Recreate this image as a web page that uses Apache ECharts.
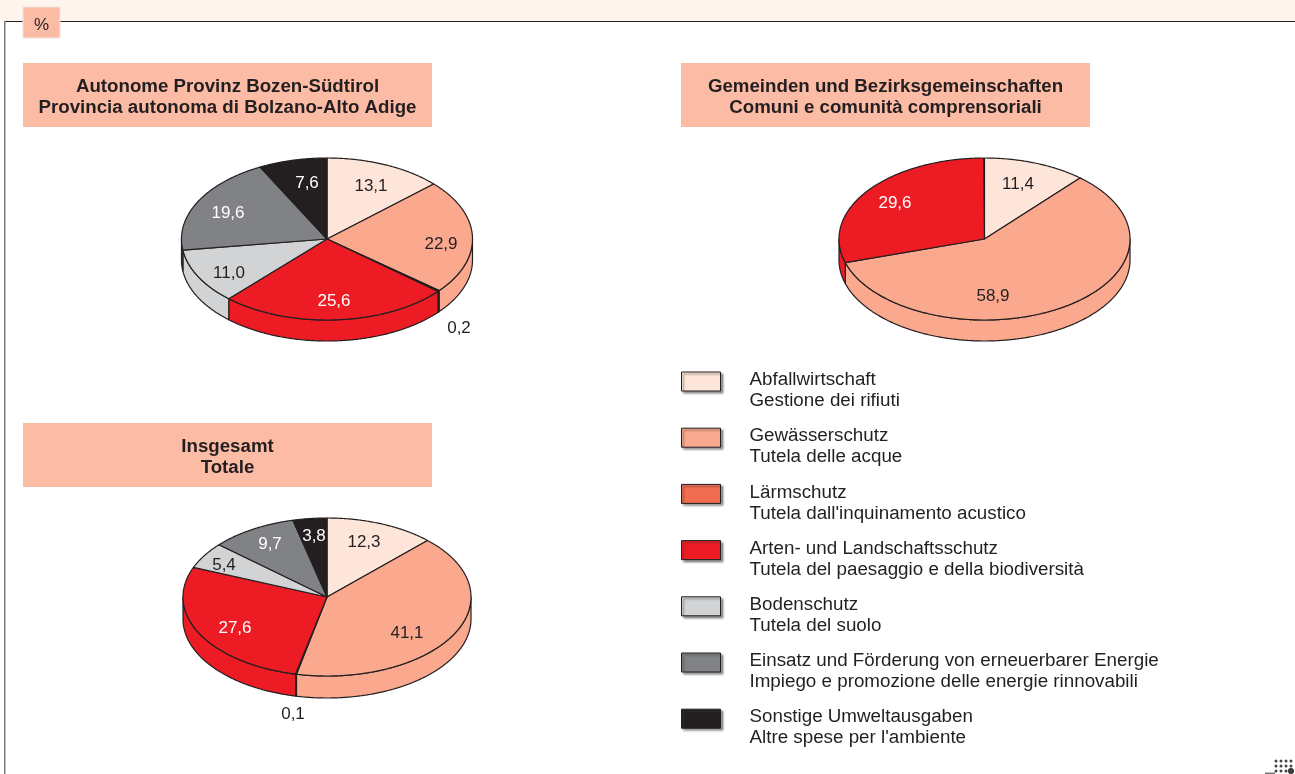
<!DOCTYPE html>
<html>
<head>
<meta charset="utf-8">
<title>Umweltausgaben</title>
<script src="https://cdn.jsdelivr.net/npm/echarts@6/dist/echarts.min.js"></script>
<style>
  html, body { margin: 0; padding: 0; background: #fff; }
  #chart { width: 1295px; height: 774px; }
</style>
</head>
<body>
<div id="chart"></div>
<script>
const categories = [
  'Abfallwirtschaft\nGestione dei rifiuti',
  'Gewässerschutz\nTutela delle acque',
  'Lärmschutz\nTutela dall\'inquinamento acustico',
  'Arten- und Landschaftsschutz\nTutela del paesaggio e della biodiversità',
  'Bodenschutz\nTutela del suolo',
  'Einsatz und Förderung von erneuerbarer Energie\nImpiego e promozione delle energie rinnovabili',
  'Sonstige Umweltausgaben\nAltre spese per l\'ambiente',
];
const valuesProvince = [13.1, 22.9, 0.2, 25.6, 11.0, 19.6, 7.6];
const valuesMunicipal = [11.4, 58.9, 0, 29.6, 0, 0, 0];
const valuesTotal = [12.3, 41.1, 0.1, 27.6, 5.4, 9.7, 3.8];

const colors = ['#fee5da', '#faa98e', '#f26c4f', '#ed1c24', '#d1d3d4', '#808285', '#231f20'];
const labelColors = ['#231f20', '#231f20', '#231f20', '#fff', '#231f20', '#fff', '#fff'];
const ink = '#231f20';
const peach = '#fcbba5';
const sans = '"Liberation Sans", Arial, sans-serif';

// pie geometry; label offsets are measured from the pie centre
const pies = [
  {
    values: valuesProvince, cx: 327, cy: 239, rx: 145.5, ry: 81, depth: 21,
    labels: [[44, -54], [114, 4], [132, 88], [7, 61], [-98, 33], [-99, -27], [-20, -57]],
  },
  {
    values: valuesMunicipal, cx: 984.5, cy: 239, rx: 145.5, ry: 81, depth: 21,
    labels: [[33.5, -56], [8.5, 56], null, [-89.5, -37], null, null, null],
  },
  {
    values: valuesTotal, cx: 327, cy: 597, rx: 144, ry: 79, depth: 22,
    labels: [[37, -56], [80, 35], [-34, 116], [-92, 30], [-103, -33], [-57, -54], [-13, -62]],
  },
];

const arcPoints = (pie, from, to, dy) => {
  const pts = [];
  const steps = Math.max(1, Math.ceil(Math.abs(to - from) / 0.5));
  for (let i = 0; i <= steps; i++) {
    const a = ((from + ((to - from) * i) / steps) * Math.PI) / 180;
    pts.push([pie.cx + pie.rx * Math.sin(a), pie.cy - pie.ry * Math.cos(a) + dy]);
  }
  return pts;
};

const renderSlice = (catIndex) => (params, api) => {
  const pie = pies[api.value(0)];
  const value = api.value(1);
  const start = (api.value(2) / 100) * 360;
  const end = start + (value / 100) * 360;
  const lineStyle = { stroke: ink, lineWidth: 1.2, lineJoin: 'round' };
  const children = [];

  // the visible wall is the front half of the rim, 90 to 270 degrees clockwise from the top
  const wallFrom = Math.max(start, 90);
  const wallTo = Math.min(end, 270);
  if (wallTo > wallFrom) {
    children.push({
      type: 'polygon',
      shape: {
        points: arcPoints(pie, wallFrom, wallTo, 0).concat(arcPoints(pie, wallTo, wallFrom, pie.depth)),
      },
      style: { fill: colors[catIndex], ...lineStyle },
    });
  }
  children.push({
    type: 'polygon',
    shape: { points: [[pie.cx, pie.cy]].concat(arcPoints(pie, start, end, 0)) },
    style: { fill: colors[catIndex], ...lineStyle },
  });
  const at = pie.labels[catIndex];
  children.push({
    type: 'text',
    z2: 20,
    style: {
      x: pie.cx + at[0],
      y: pie.cy + at[1] + 1,
      text: value.toFixed(1).replace('.', ','),
      fill: at[1] > pie.ry + pie.depth ? ink : labelColors[catIndex],
      font: '17px ' + sans,
      align: 'center',
      verticalAlign: 'middle',
    },
  });
  return { type: 'group', children };
};

const seriesList = categories.map((name, catIndex) => {
  const data = [];
  pies.forEach((pie, pieIndex) => {
    if (pie.values[catIndex] > 0) {
      const before = pie.values.slice(0, catIndex).reduce((s, v) => s + v, 0);
      data.push([pieIndex, pie.values[catIndex], before]);
    }
  });
  return {
    type: 'custom',
    name,
    coordinateSystem: 'none',
    silent: true,
    itemStyle: { color: colors[catIndex] },
    renderItem: renderSlice(catIndex),
    data,
  };
});

const titleBox = (x, y, lines) => [
  { type: 'rect', shape: { x, y, width: 409, height: 64 }, style: { fill: peach } },
  {
    type: 'text',
    style: {
      x: x + 204.5,
      y: y + 34,
      text: lines,
      fill: ink,
      font: 'bold 18.7px ' + sans,
      lineHeight: 21,
      align: 'center',
      verticalAlign: 'middle',
    },
  },
];

// scrap of the page's dot screen in the bottom right corner
const dots = [
  { type: 'rect', shape: { x: 1265, y: 772.5, width: 10, height: 1.5 }, style: { fill: '#77787b' } },
  { type: 'circle', shape: { cx: 1291, cy: 771, r: 3 }, style: { fill: '#333' } },
];
[1276, 1281, 1286, 1291].forEach((x) => {
  [761, 766, 771].forEach((y) => {
    dots.push({ type: 'circle', shape: { cx: x, cy: y, r: 1.5 }, style: { fill: '#444' } });
  });
});

const chart = echarts.init(document.getElementById('chart'));
chart.setOption({
  animation: false,
  backgroundColor: '#fff',
  legend: {
    left: 681,
    top: 369.5,
    padding: 0,
    orient: 'vertical',
    selectedMode: false,
    data: categories,
    // the empty tail of the icon path lifts the swatch above the middle of its two text lines
    icon: 'path://M0 0L39 0L39 19L0 19ZM39 37L39 37',
    itemWidth: 39,
    itemHeight: 37,
    itemGap: 14.2,
    itemStyle: {
      borderColor: ink,
      borderWidth: 1,
      shadowColor: 'rgba(60,60,60,0.55)',
      shadowBlur: 2,
      shadowOffsetX: 2,
      shadowOffsetY: 2,
    },
    textStyle: {
      color: ink,
      fontFamily: sans,
      fontSize: 18.8,
      lineHeight: 21,
      padding: [0, 0, 0, 24],
    },
  },
  graphic: [
    { type: 'rect', shape: { x: 0, y: 0, width: 1295, height: 21 }, style: { fill: '#fff5ef' } },
    { type: 'rect', shape: { x: 4, y: 21, width: 1291, height: 1 }, style: { fill: ink } },
    { type: 'rect', shape: { x: 4, y: 21, width: 1.5, height: 753 }, style: { fill: '#85787a' } },
    {
      type: 'rect',
      shape: { x: 23, y: 7, width: 37, height: 31 },
      style: { fill: peach, stroke: '#f1e3dc', lineWidth: 1 },
    },
    {
      type: 'text',
      style: {
        x: 41.5,
        y: 25,
        text: '%',
        fill: ink,
        font: '17px ' + sans,
        align: 'center',
        verticalAlign: 'middle',
      },
    },
    ...titleBox(23, 63, 'Autonome Provinz Bozen-Südtirol\nProvincia autonoma di Bolzano-Alto Adige'),
    ...titleBox(681, 63, 'Gemeinden und Bezirksgemeinschaften\nComuni e comunità comprensoriali'),
    ...titleBox(23, 423, 'Insgesamt\nTotale'),
    ...dots,
  ],
  series: seriesList,
});
</script>
</body>
</html>
